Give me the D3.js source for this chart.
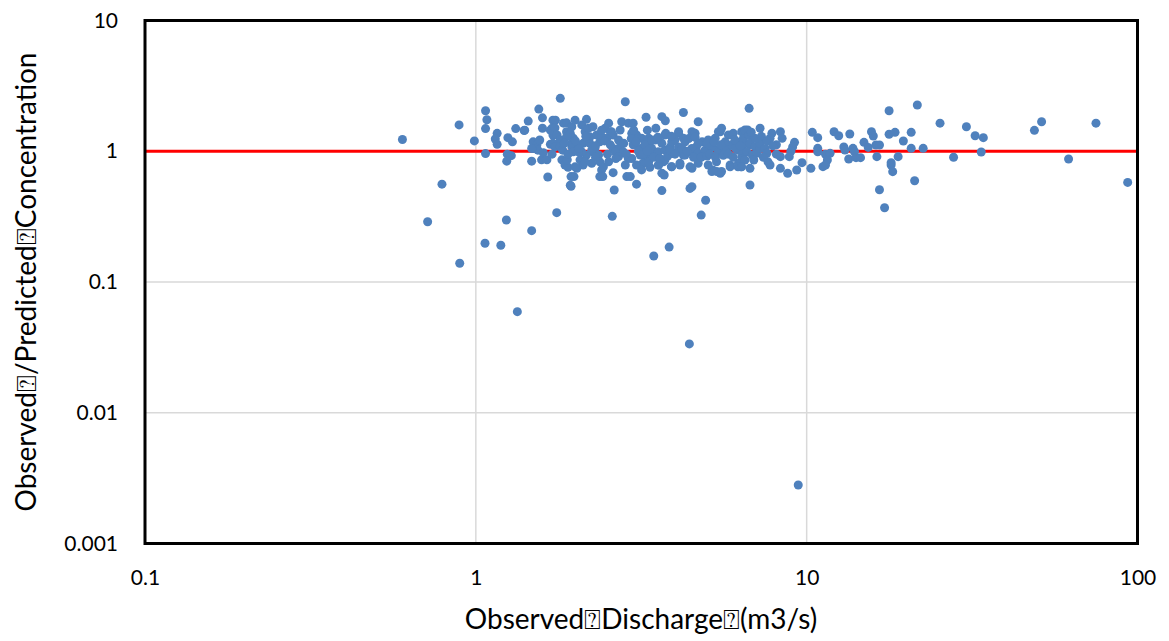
<!DOCTYPE html>
<html>
<head>
<meta charset="utf-8">
<script src="https://cdn.jsdelivr.net/npm/d3@7"></script>
<style>
  html, body { margin: 0; padding: 0; background: #ffffff; }
  svg { display: block; }
</style>
</head>
<body>
<svg id="chart" width="1169" height="641"></svg>
<script>
// ---------- data ----------
const xTicks = [0.1, 1, 10, 100];
const xTickLabels = ["0.1", "1", "10", "100"];
const yTicks = [0.001, 0.01, 0.1, 1, 10];
const yTickLabels = ["0.001", "0.01", "0.1", "1", "10"];
const referenceRatio = 1;
const xTitle = "Observed\u2370Discharge\u2370(m3/s)";
const yTitle = "Observed\u2370/Predicted\u2370Concentration";

// [observed discharge (m3/s), observed/predicted concentration]
const observations = [
  [0.60,1.23],[0.89,1.59],[0.79,0.56],[0.99,1.20],[1.07,2.04],[1.08,1.74],[1.07,1.49],[1.07,0.96],
  [0.715,0.289],[0.894,0.139],[1.066,0.198],[1.19,0.191],[1.237,0.298],[1.475,0.247],[1.756,0.339],
  [2.585,0.318],[1.335,0.0593],[3.45,0.158],[3.84,0.185],[4.80,0.325],[4.95,0.422],[4.42,0.0336],
  [9.43,0.0028],[3.65,0.50],
  [1.16,1.37],[1.145,1.24],[1.16,1.13],[1.25,1.27],[1.29,1.18],[1.32,1.49],[1.245,0.95],[1.28,0.925],
  [1.24,0.84],[1.405,1.45],[1.44,1.70],[1.55,2.10],[1.59,1.80],[1.59,1.50],[1.80,2.54],[1.475,0.84],
  [1.65,0.635],[1.71,1.73],[1.74,1.73],[1.70,1.50],[1.71,1.33],[1.68,1.13],[1.76,1.12],[1.84,1.64],
  [1.88,1.41],[1.82,0.86],[1.86,0.785],[1.93,0.55],
  [1.40,1.44],[1.49,1.18],[1.53,1.12],[1.50,1.05],[1.54,1.02],[1.60,0.975],[1.58,0.86],[1.64,0.86],
  [1.68,1.45],[1.735,1.51],[1.76,1.33],[1.80,1.22],[1.71,1.15],[1.735,1.08],[1.80,1.08],[1.83,1.02],
  [1.90,0.755],[1.94,0.64],[1.98,0.64],[1.94,0.54],[1.88,1.65],[1.95,1.54],[1.995,1.73],[1.93,1.37],
  [1.97,1.26],[1.88,1.29],[1.95,1.08],[2.02,1.12],[1.97,0.99],[2.065,0.86],[2.11,0.785],[2.02,0.74],
  [2.09,1.59],[2.16,1.755],[2.14,1.41],[2.19,1.50],[2.26,1.54],[2.21,1.29],[2.32,1.33],[2.11,1.15],
  [2.21,1.15],[2.29,1.05],[2.37,1.18],[2.26,0.99],[2.16,0.936],[2.09,0.99],[2.24,0.81],[2.37,0.83],
  [2.40,0.72],[2.37,0.64],[2.42,0.64],[2.60,0.686],[2.62,0.505],[2.52,1.64],[2.46,1.50],[2.55,1.41],
  [2.40,1.29],[2.49,1.26],[2.60,1.33],[2.73,1.454],[2.76,1.68],[2.83,2.39],[2.60,1.05],[2.73,1.08],
  [2.79,0.99],[2.89,0.88],[2.86,0.64],[2.93,0.64],[3.06,0.56],[2.89,1.64],[2.99,1.64],[2.96,1.37],
  [3.06,1.33],[3.17,1.26],[3.27,1.82],[2.99,1.12],[3.14,1.05],[3.25,1.15],[3.36,1.08],[3.14,0.936],
  [3.28,0.91],[3.40,0.99],[3.52,0.936],[3.20,0.81],[3.36,0.755],[3.57,0.785],[3.69,0.83],[3.65,1.84],
  [3.74,1.71],[3.75,1.37],[3.71,0.658],[4.24,1.98],[4.10,1.37],[4.24,1.26],[3.96,1.22],[3.87,1.08],
  [4.06,0.99],[4.24,0.936],[4.44,0.99],[4.64,1.08],[3.90,0.762],[4.14,0.785],[4.50,0.535],[4.44,0.52],
  [4.50,0.74],[4.70,1.68],[4.50,1.41],[4.60,1.37],[4.83,1.18],[5.20,0.72],[5.48,0.678],[5.20,1.08],
  [5.48,1.02],[5.80,1.08],[5.48,1.41],[5.80,1.33],[6.00,1.37],[5.87,0.785],[6.22,0.81],[6.37,0.91],
  [6.43,1.22],[6.63,1.454],[6.70,2.13],[6.74,1.12],[7.06,1.08],[6.74,0.552],[7.23,1.50],[7.64,0.83],
  [7.85,1.37],[8.10,1.12],
  [5.17,0.70],[5.35,0.70],[6.74,0.74],[8.33,0.74],[8.76,0.678],[9.33,0.719],[10.3,0.74],[11.2,0.762],
  [5.87,0.76],[6.33,0.76],[7.75,0.785],[18.0,0.785],[16.6,0.508],[17.2,0.37],[18.2,0.698],[21.2,0.595],
  [8.33,1.41],[8.43,1.256],[7.75,1.256],[9.19,1.17],[9.07,1.08],[8.96,1.0],[8.33,0.909],[8.86,0.909],
  [9.68,0.818],[10.4,1.395],[10.8,1.27],[10.8,1.053],[10.8,0.992],[11.4,0.948],[11.77,0.964],[11.55,0.857],
  [11.4,0.785],[12.1,1.41],[12.5,1.315],[13.5,1.355],[12.95,1.08],[13.05,1.022],[13.8,1.053],[13.95,0.992],
  [13.4,0.873],[14.1,0.893],[14.55,0.893],[14.9,1.17],[15.35,1.07],[15.7,1.41],[15.9,1.308],[16.2,1.116],
  [16.6,1.116],[16.3,0.909],[17.75,2.04],[17.75,1.35],[18.5,1.395],[18.9,0.909],[18.0,0.818],[19.6,1.198],
  [20.7,1.395],[20.7,1.053],[21.6,2.26],[22.5,1.053],[25.3,1.64],
  [30.4,1.54],[32.3,1.315],[34.2,1.27],[33.7,0.987],[27.8,0.899],[48.8,1.445],[51.3,1.68],[61.9,0.873],
  [74.9,1.64],[93.4,0.578],
  [3.33,1.26],[3.48,1.22],[3.73,1.33],[3.91,1.18],[4.10,1.41],[5.41,1.41],[5.53,1.50],[6.36,1.41],[2.57,1.41],
  [3.25,1.12],[3.40,1.05],[3.56,0.99],[3.73,1.02],[3.91,0.96],[4.10,1.08],[4.29,0.936],[4.50,1.05],
  [4.70,0.965],[4.93,1.02],[5.16,1.08],[5.41,0.99],[5.67,1.05],[5.93,1.12],[6.20,1.02],[6.44,1.12],
  [3.33,0.83],[3.56,0.785],[3.73,0.857],[3.91,0.76],[4.14,0.81],[4.44,0.76],[4.70,0.81],[5.04,0.785],
  [5.34,0.83],[5.53,0.70],[6.20,0.76],
  [3.40,1.22],[3.65,1.15],[4.00,1.22],[4.29,1.18],[4.70,1.15],[5.04,1.22],[5.29,1.26],[5.67,1.18],
  [6.07,1.22],[6.44,1.26],[3.65,0.68],
  [1.95,1.15],[2.04,0.99],[1.89,0.86],[1.995,0.76],[2.14,0.83],[2.24,1.02],[2.35,0.936],[2.43,0.76],
  [2.52,0.83],[2.64,0.99],[2.70,0.91],[2.83,0.785],[2.96,0.88],[3.06,0.785],[3.17,0.72],
  [6.51,1.454],[6.67,1.33],[6.92,1.26],[6.44,1.18],[6.74,1.15],[6.98,1.08],[6.36,1.02],[6.60,0.99],
  [6.85,0.936],[7.06,0.965],[7.23,1.05],[6.51,0.857],[6.92,0.857],[6.36,0.76],[7.23,1.15],[7.49,1.05],
  [7.58,0.965],[1.475,1.05],[1.56,1.22],
  [2.20,1.25],[2.30,1.10],[2.45,1.20],[2.55,1.12],[2.70,1.22],[2.80,1.15],[2.95,1.25],[3.05,1.18],
  [3.10,1.00],[3.20,0.95],[3.30,1.00],[3.45,0.90],[3.60,0.88],[3.80,0.92],[3.85,1.02],[4.00,0.95],
  [4.20,1.05],[4.35,1.00],[4.55,0.90],[4.80,0.90],[5.00,0.92],[5.10,0.95],[5.30,0.90],[5.60,0.93],
  [5.80,0.95],[6.00,0.90],[6.10,1.05],[6.30,1.10],[5.00,1.15],[5.25,1.18],[5.50,1.12],[4.40,1.25],
  [4.60,1.28],[3.90,1.30],[3.55,1.28],[2.30,0.90],[2.50,0.95],[2.65,0.88],[2.85,0.95],[2.05,1.05],
  [2.00,1.20],[2.15,1.30],[1.85,1.15],[1.90,0.95],[1.70,0.95],[7.00,1.25],[7.30,1.30],[7.60,1.20],
  [7.90,1.10],[7.40,0.90],[8.10,0.95],[6.80,1.40],[3.00,1.45],[3.30,1.45],[3.50,1.50],[2.40,1.45]
];

// ---------- layout ----------
const svg = d3.select("#chart");
const plotLeft = 145, plotRight = 1137.5, plotTop = 20.5, plotBottom = 543.5;
const font = "Lato, 'Open Sans', sans-serif";

const x = d3.scaleLog().domain([0.1, 100]).range([plotLeft, plotRight]);
const y = d3.scaleLog().domain([0.001, 10]).range([plotBottom, plotTop]);

// gridlines
const grid = svg.append("g");
grid.selectAll("line.v").data(xTicks).join("line").attr("class", "v")
  .attr("x1", d => x(d)).attr("x2", d => x(d))
  .attr("y1", plotTop).attr("y2", plotBottom)
  .attr("stroke", "#d9d9d9").attr("stroke-width", 1.5);
grid.selectAll("line.h").data(yTicks).join("line").attr("class", "h")
  .attr("x1", plotLeft).attr("x2", plotRight)
  .attr("y1", d => y(d)).attr("y2", d => y(d))
  .attr("stroke", "#d9d9d9").attr("stroke-width", 1.5);

// reference line at ratio = 1
svg.append("line")
  .attr("x1", plotLeft).attr("x2", plotRight)
  .attr("y1", y(referenceRatio)).attr("y2", y(referenceRatio))
  .attr("stroke", "#ff0000").attr("stroke-width", 3);

// points
svg.append("g").selectAll("circle").data(observations).join("circle")
  .attr("cx", d => x(d[0])).attr("cy", d => y(d[1]))
  .attr("r", 4.5)
  .attr("fill", "#4f81bd");

// frame
svg.append("rect")
  .attr("x", plotLeft).attr("y", plotTop)
  .attr("width", plotRight - plotLeft).attr("height", plotBottom - plotTop)
  .attr("fill", "none").attr("stroke", "#000").attr("stroke-width", 3);

// axes
const xAxis = d3.axisBottom(x).tickValues(xTicks)
  .tickFormat((d, i) => xTickLabels[i]).tickSize(0).tickPadding(27);
const gx = svg.append("g").attr("transform", `translate(0,${plotBottom})`).call(xAxis);
gx.select(".domain").remove();
gx.selectAll("text").attr("font-family", font).attr("font-size", 21).attr("fill", "#000");

const yAxis = d3.axisLeft(y).tickValues(yTicks)
  .tickFormat((d, i) => yTickLabels[i]).tickSize(0).tickPadding(27);
const gy = svg.append("g").attr("transform", `translate(${plotLeft},0)`).call(yAxis);
gy.select(".domain").remove();
gy.selectAll("text").attr("font-family", font).attr("font-size", 21).attr("fill", "#000");

// titles
svg.append("text")
  .attr("x", 641).attr("y", 629)
  .attr("text-anchor", "middle")
  .attr("font-family", font).attr("font-size", 28).attr("fill", "#000")
  .text(xTitle);

svg.append("text")
  .attr("transform", `translate(36,282) rotate(-90)`)
  .attr("text-anchor", "middle")
  .attr("font-family", font).attr("font-size", 28).attr("fill", "#000")
  .text(yTitle);
</script>
</body>
</html>
